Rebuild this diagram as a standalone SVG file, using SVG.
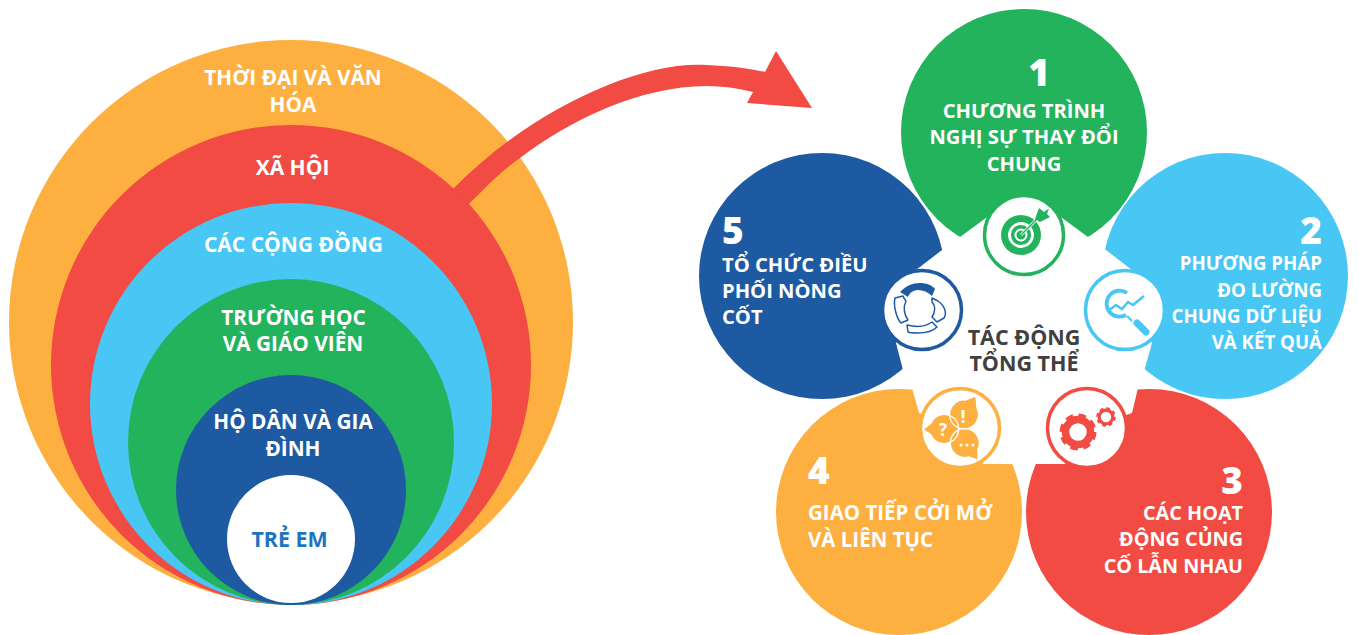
<svg xmlns="http://www.w3.org/2000/svg" width="1359" height="635" viewBox="0 0 1359 635">
<style>
text{font-family:"Open Sans","Noto Sans","Liberation Sans",sans-serif;font-weight:700;font-size:20.2px;fill:#fff}
.c{text-anchor:middle}.e{text-anchor:end}
.n{font-size:37px;font-weight:800}
.left text{font-size:20.8px}
.dark{fill:#404040;font-size:21.5px}
.disc{fill:#fff;stroke-width:3.5}
.o{fill:#FDB040}.r{fill:#F14B43}.l{fill:#48C6F4}.g{fill:#22B35C}.b{fill:#1D5AA2}
.seg{fill:#fff;stroke:#1D5AA2;stroke-width:1.5;stroke-linejoin:round}
</style>
<defs>
<path id="bub1" d="M977,408A14.500,14.500 0 1 1 965,400L976,396Z"/>
<path id="bub2" d="M931,423A14.500,14.500 0 1 1 931,435L923,429.500Z"/>
<path id="bub3" d="M968.600,457A14.500,14.500 0 1 1 978,449L978,460Z"/>
</defs>
<rect width="1359" height="635" fill="#fff"/>
<g id="nested-circles" class="left">
<g id="ring-culture"><circle class="o" cx="291" cy="322" r="282"/></g>
<g id="connectors"><path class="r" d="M440,202L453,189C530,110 640,60 707,65C728,66 748,68 765,72L776,51L812,108L747,103L753,92C738,88 722,86 707,86C640,86 570,120 520,158C500,172 485,188 469,204L455,220Z"/></g>
<g id="ring-society"><circle class="r" cx="291" cy="365" r="240"/><text class="c" x="292.500" y="175" style="font-size:21px">XÃ HỘI</text></g>
<g id="ring-communities"><circle class="l" cx="291" cy="404" r="201"/><text class="c" x="293.500" y="252" style="font-size:21px">CÁC CỘNG ĐỒNG</text></g>
<g id="ring-schools"><circle class="g" cx="291" cy="442" r="163"/><text class="c" x="293.500" y="325">TRƯỜNG HỌC</text><text class="c" x="293" y="351">VÀ GIÁO VIÊN</text></g>
<g id="ring-families"><circle class="b" cx="291" cy="490" r="115"/><text class="c" x="293" y="429">HỘ DÂN VÀ GIA</text><text class="c" x="293" y="456">ĐÌNH</text></g>
<g id="ring-children"><circle fill="#fff" cx="291" cy="539" r="64"/><text class="c" x="289.500" y="547" style="fill:#1C75BC;font-size:21.4px">TRẺ EM</text></g>
<g id="culture-label"><text class="c" x="293" y="85">THỜI ĐẠI VÀ VĂN</text><text class="c" x="293" y="112">HÓA</text></g>
</g>
<g id="petals">
<circle class="g" cx="1024" cy="132" r="123"/>
<circle class="l" cx="1225" cy="276" r="123"/>
<circle class="r" cx="1149" cy="512" r="123"/>
<circle class="o" cx="899" cy="512" r="123"/>
<circle class="b" cx="822" cy="276" r="123"/>
<polygon fill="#fff" points="960,237 990,215 1024,235 1058,215 1088,237 1106,250 1132,270 1126,310 1152,343 1145,368 1138,388 1132,413 1087,428 1065,464 1036,464 1012,464 983,464 960,428 919,413 912,388 903,370 896,343 922,310 916,270 942,250"/>
</g>
<g id="center"><text class="c dark" x="1024" y="345">TÁC ĐỘNG</text><text class="c dark" x="1024" y="371">TỔNG THỂ</text></g>
<g id="node-1">
<text class="c n" x="1039" y="86">1</text>
<text class="c" x="1024" y="118">CHƯƠNG TRÌNH</text><text class="c" x="1024" y="144">NGHỊ SỰ THAY ĐỔI</text><text class="c" x="1024" y="171">CHUNG</text>
<circle class="disc" cx="1024" cy="235" r="39.500" stroke="#22B35C"/>
<circle class="g" cx="1021" cy="235" r="20"/>
<circle fill="none" stroke="#fff" stroke-width="2.800" cx="1021" cy="235" r="11.500"/>
<circle fill="none" stroke="#fff" stroke-width="2" cx="1021" cy="235" r="5.500"/>
<path d="M1021,235L1040,216" stroke="#fff" stroke-width="3"/>
<path d="M1021,235L1038,218" stroke="#22B35C" stroke-width="1.500"/>
<path class="g" d="M1035,219L1039,208L1044,212L1049,208.500L1047,214L1050,217L1040,222Z"/>
</g>
<g id="node-2">
<text class="e n" x="1322" y="244">2</text>
<text class="e" x="1322" y="270" style="font-size:18.700px">PHƯƠNG PHÁP</text><text class="e" x="1322" y="297" style="font-size:18.700px">ĐO LƯỜNG</text><text class="e" x="1322" y="323" style="font-size:18.700px">CHUNG DỮ LIỆU</text><text class="e" x="1322" y="349" style="font-size:18.700px">VÀ KẾT QUẢ</text>
<circle class="disc" cx="1125" cy="310" r="39.500" stroke="#48C6F4"/>
<path d="M1127,293A13,13 0 1 0 1126,315" fill="none" stroke="#48C6F4" stroke-width="3.800"/>
<path d="M1108,311L1116,305L1122,309L1128,302L1133,305L1144,296" fill="none" stroke="#48C6F4" stroke-width="2.500"/>
<path d="M1127,316L1132,321" stroke="#48C6F4" stroke-width="2"/>
<path d="M1137,323L1146,332" stroke="#48C6F4" stroke-width="7" stroke-linecap="round"/>
</g>
<g id="node-3">
<text class="e n" x="1243" y="494">3</text>
<text class="e" x="1243" y="520" style="font-size:19.8px">CÁC HOẠT</text><text class="e" x="1243" y="546" style="font-size:19.8px">ĐỘNG CỦNG</text><text class="e" x="1243" y="573" style="font-size:19.8px">CỐ LẪN NHAU</text>
<circle class="disc" cx="1087" cy="428" r="39.500" stroke="#F14B43"/>
<circle cx="1078" cy="432" r="12.500" fill="none" stroke="#F14B43" stroke-width="7.500"/>
<circle cx="1078" cy="432" r="16.500" fill="none" stroke="#F14B43" stroke-width="4" stroke-dasharray="7.500 5.460"/>
<circle cx="1106" cy="417" r="6.800" fill="none" stroke="#F14B43" stroke-width="3.200"/>
<circle cx="1106" cy="417" r="8.800" fill="none" stroke="#F14B43" stroke-width="2" stroke-dasharray="3.800 3.110"/>
</g>
<g id="node-4">
<text class="n" x="808" y="484">4</text>
<text x="808" y="520" style="font-size:20.5px">GIAO TIẾP CỞI MỞ</text><text x="808" y="547" style="font-size:20.5px">VÀ LIÊN TỤC</text>
<circle class="disc" cx="960" cy="428" r="39.500" stroke="#FDB040"/>
<g class="o"><use href="#bub1"/><use href="#bub2"/><use href="#bub3"/></g>
<g fill="none" stroke="#fff" stroke-width="1.300"><use href="#bub1"/><use href="#bub2"/><use href="#bub3"/></g>
<text class="c" x="943" y="436" style="font-size:17px">?</text>
<text class="c" x="963" y="423" style="font-size:18px">!</text>
<g fill="#fff"><circle cx="961" cy="445" r="1.500"/><circle cx="967" cy="445" r="1.500"/><circle cx="973" cy="445" r="1.500"/></g>
</g>
<g id="node-5">
<text class="n" x="722" y="244">5</text>
<text x="722" y="272">TỔ CHỨC ĐIỀU</text><text x="722" y="298">PHỐI NÒNG</text><text x="722" y="324">CỐT</text>
<circle class="disc" cx="922" cy="310" r="39.500" stroke="#1D5AA2"/>
<path class="b" d="M900,292C906,286 912,283 920,283C926,283 932,285 935,289L932,296C928,292 923,290 918,290C914,290 910,292 908,297Z"/>
<path class="seg" d="M895,298L903,296C904,299 905,300 906,301C903,307 904,315 908,320L901,323C897,319 893,306 895,298Z"/>
<path class="seg" d="M932,298L938,301C945,306 947,313 944,318L937,322L932,317C935,313 936,306 932,302Z"/>
<path class="seg" d="M907,325C915,327 925,327 932,322L937,327C933,331 925,333 918,333C914,333 910,333 908,332Z"/>
</g>
</svg>
